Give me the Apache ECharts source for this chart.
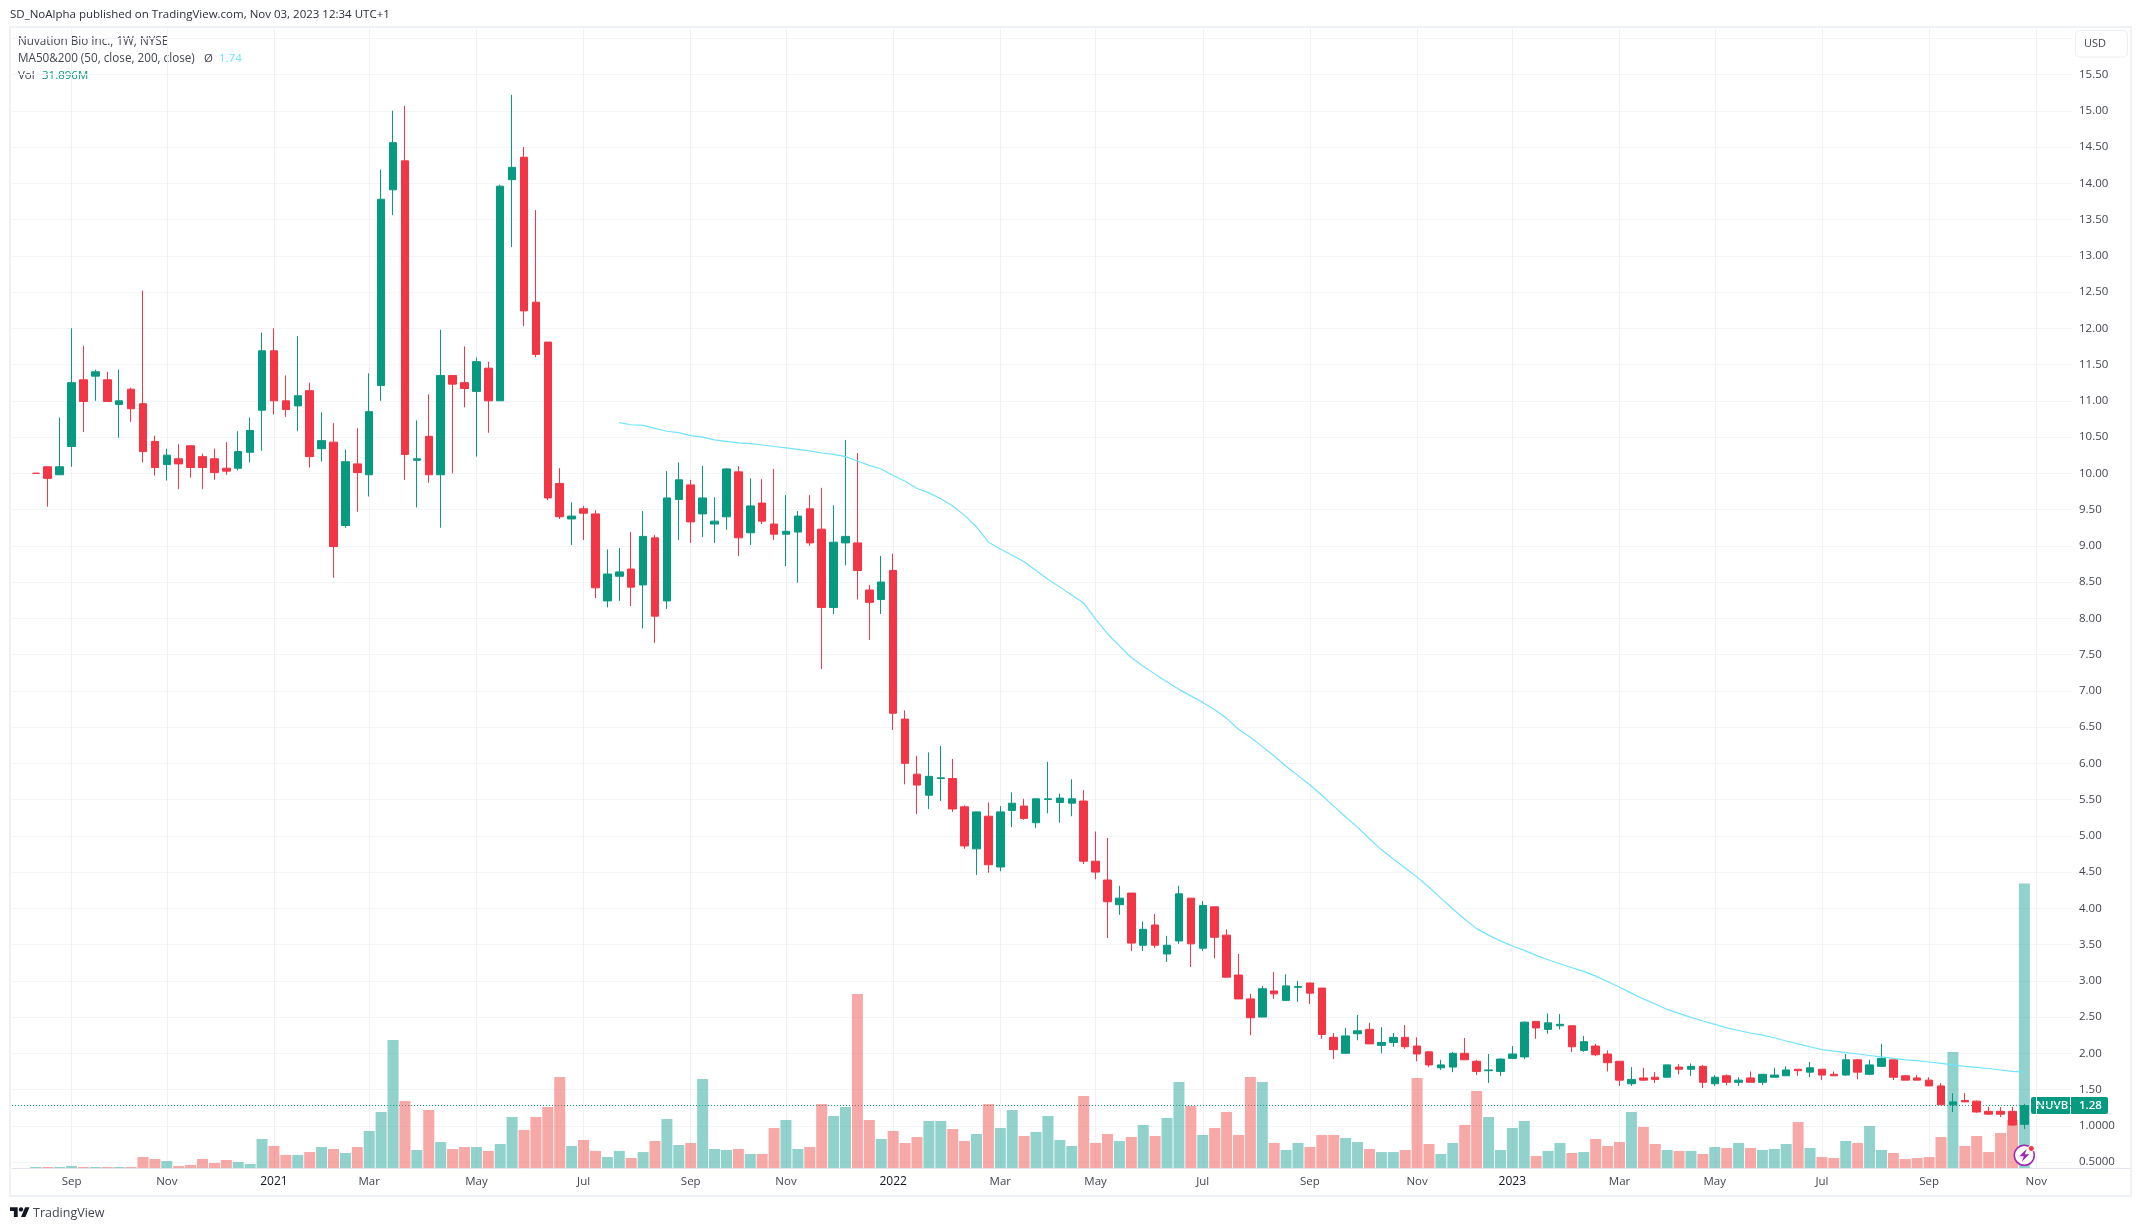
<!DOCTYPE html>
<html>
<head>
<meta charset="utf-8">
<title>Nuvation Bio Inc., 1W, NYSE</title>
<style>html,body{margin:0;padding:0;background:#fff}#c{width:2141px;height:1231px}</style>
<script src="https://cdn.jsdelivr.net/npm/echarts@6/dist/echarts.min.js"></script>
</head>
<body>
<div id="c"></div>
<script>
const opens = [
10.00,10.09,9.98,10.37,11.29,11.34,11.29,10.95,11.16,10.96,
10.44,10.12,10.20,10.38,10.23,10.20,10.07,10.07,10.29,10.87,
11.69,11.00,10.93,11.14,10.34,10.43,9.28,10.13,9.98,11.21,
13.91,14.31,10.18,10.51,9.98,11.35,11.25,11.13,11.45,11.00,
14.05,14.36,12.36,11.81,9.86,9.37,9.51,9.44,8.24,8.58,
8.68,8.46,9.11,8.24,9.64,9.84,9.44,9.30,9.40,10.02,
9.18,9.59,9.30,9.16,9.19,9.51,9.23,8.15,9.04,9.04,
8.39,8.26,8.66,6.61,5.85,5.56,5.79,5.79,5.40,4.82,
5.27,4.57,5.35,5.41,5.18,5.50,5.46,5.45,5.48,4.65,
4.39,4.05,4.21,3.49,3.77,3.37,3.55,4.14,3.45,4.02,
3.63,3.08,2.75,2.50,2.86,2.73,2.91,2.97,2.90,2.22,
2.00,2.27,2.33,2.11,2.15,2.22,2.10,2.02,1.80,1.81,
2.00,1.89,1.76,1.75,1.93,1.95,2.44,2.33,2.38,2.38,
2.04,2.10,1.99,1.89,1.58,1.66,1.67,1.67,1.81,1.78,
1.82,1.58,1.69,1.60,1.66,1.60,1.67,1.69,1.78,1.74,
1.78,1.71,1.70,1.91,1.71,1.82,1.91,1.69,1.66,1.63,
1.55,1.29,1.35,1.34,1.20,1.20,1.20,1.02];
const closes = [
10.00,9.93,10.09,11.25,10.99,11.40,10.99,11.00,10.89,10.30,
10.08,10.25,10.13,10.08,10.08,10.01,10.03,10.30,10.59,11.69,
11.00,10.88,11.07,10.23,10.45,8.99,10.16,10.01,10.85,13.78,
14.56,10.26,10.20,9.98,11.35,11.23,11.17,11.54,11.00,13.96,
14.22,12.24,11.64,9.66,9.40,9.41,9.45,8.42,8.61,8.64,
8.43,9.13,8.03,9.66,9.91,9.33,9.66,9.34,10.06,9.11,
9.55,9.34,9.16,9.20,9.41,9.04,8.15,9.05,9.13,8.66,
8.22,8.50,6.69,6.00,5.70,5.82,5.80,5.37,4.86,5.33,
4.60,5.33,5.45,5.24,5.51,5.51,5.52,5.51,4.65,4.50,
4.09,4.14,3.52,3.71,3.49,3.49,4.20,3.51,4.04,3.60,
3.05,2.75,2.49,2.89,2.82,2.93,2.92,2.83,2.26,2.05,
2.24,2.31,2.13,2.15,2.22,2.09,1.99,1.84,1.84,2.00,
1.91,1.75,1.77,1.92,1.99,2.43,2.35,2.42,2.40,2.09,
2.16,1.98,1.87,1.63,1.64,1.63,1.64,1.84,1.78,1.82,
1.60,1.67,1.60,1.63,1.60,1.71,1.70,1.77,1.76,1.80,
1.70,1.69,1.91,1.74,1.84,1.93,1.67,1.63,1.63,1.55,
1.29,1.33,1.33,1.19,1.16,1.16,1.01,1.28];
const highs = [
10.00,10.09,10.77,12.00,11.76,11.43,11.40,11.43,11.18,12.52,
10.52,10.34,10.40,10.38,10.27,10.34,10.43,10.58,10.77,11.94,
12.00,11.35,11.89,11.25,10.84,10.69,10.33,10.62,11.38,14.19,
15.00,15.07,10.73,11.09,11.98,11.35,11.75,11.60,11.54,13.98,
15.22,14.50,13.63,11.81,10.07,9.60,9.55,9.49,8.95,8.97,
9.19,9.48,9.15,10.03,10.15,9.91,10.10,9.67,10.07,10.10,
9.93,9.92,10.06,9.70,9.48,9.70,9.80,9.56,10.46,10.28,
8.46,8.86,8.89,6.73,6.10,6.15,6.24,6.06,5.42,5.33,
5.46,5.41,5.60,5.51,5.51,6.02,5.58,5.78,5.63,5.06,
4.97,4.31,4.21,3.82,3.92,3.62,4.31,4.14,4.10,4.02,
3.71,3.37,2.82,2.93,3.12,3.09,3.00,2.97,2.90,2.28,
2.35,2.53,2.42,2.36,2.28,2.39,2.22,2.03,1.91,2.02,
2.21,1.91,1.99,1.93,2.10,2.44,2.44,2.55,2.54,2.38,
2.24,2.13,2.04,1.89,1.81,1.80,1.74,1.84,1.85,1.86,
1.84,1.70,1.71,1.67,1.75,1.71,1.80,1.82,1.78,1.88,
1.78,1.75,1.99,1.92,1.91,2.13,1.91,1.70,1.70,1.67,
1.59,1.45,1.45,1.35,1.26,1.26,1.26,1.30];
const lows = [
10.00,9.54,9.98,10.09,10.57,11.00,10.99,10.49,10.71,10.15,
9.97,9.90,9.78,9.94,9.78,9.91,9.98,10.04,10.15,10.31,
10.81,10.78,10.58,10.08,10.16,8.56,9.25,9.47,9.68,11.00,
13.56,9.91,9.53,9.87,9.25,10.00,10.91,10.23,10.56,11.00,
13.12,12.03,11.60,9.63,9.37,9.01,9.08,8.28,8.15,8.24,
8.17,7.86,7.66,8.13,9.08,9.04,9.12,9.04,9.22,8.86,
9.01,9.30,9.08,8.72,8.49,9.00,7.30,8.06,8.73,8.26,
7.70,8.06,6.46,5.71,5.30,5.37,5.48,5.33,4.82,4.46,
4.49,4.51,5.12,5.22,5.11,5.31,5.18,5.27,4.61,4.40,
3.59,3.91,3.41,3.41,3.45,3.26,3.51,3.19,3.41,3.31,
3.05,2.75,2.25,2.50,2.75,2.73,2.71,2.68,2.20,1.92,
2.00,2.18,2.13,2.00,2.09,2.06,1.89,1.81,1.77,1.74,
1.91,1.70,1.59,1.69,1.92,1.92,2.20,2.27,2.33,2.02,
2.02,1.96,1.75,1.55,1.55,1.62,1.59,1.67,1.71,1.69,
1.52,1.55,1.56,1.55,1.60,1.56,1.66,1.69,1.69,1.67,
1.63,1.69,1.69,1.64,1.70,1.81,1.63,1.63,1.63,1.55,
1.29,1.19,1.33,1.18,1.15,1.12,1.00,0.955];
// Volume, in millions of shares
const volumes = [
0.11,0.11,0.11,0.22,0.11,0.11,0.11,0.11,0.11,1.23,
1.01,0.78,0.22,0.34,1.01,0.56,0.90,0.67,0.45,3.25,
2.47,1.46,1.46,1.79,2.35,2.13,1.68,2.35,4.15,6.28,
14.35,7.51,2.02,6.50,2.91,2.13,2.35,2.35,1.91,2.69,
5.72,4.26,5.72,6.84,10.20,2.47,3.14,1.91,1.23,1.91,
1.12,1.79,3.03,5.49,2.58,2.80,9.98,2.13,2.02,2.13,
1.57,1.57,4.48,5.38,2.13,2.35,7.17,5.83,6.84,19.51,
5.38,3.25,4.15,2.80,3.48,5.27,5.27,4.37,3.03,3.81,
7.17,4.48,6.50,3.59,4.04,5.83,3.14,2.47,8.07,2.80,
3.81,3.03,3.48,4.82,3.59,5.61,9.64,6.95,3.70,4.48,
6.28,3.70,10.20,9.64,2.80,2.02,2.80,2.35,3.70,3.70,
3.36,2.91,2.13,1.79,1.79,2.02,10.09,2.69,1.57,2.80,
4.82,8.63,5.72,2.02,4.48,5.27,1.35,1.91,2.80,1.68,
1.79,3.25,2.47,2.91,6.28,4.60,2.69,2.02,1.91,1.91,
1.57,2.35,2.24,2.80,2.24,2.02,2.13,2.69,5.16,2.24,
1.23,1.12,3.03,2.80,4.71,2.02,1.68,1.01,1.12,1.23,
3.48,13.00,2.47,3.59,1.79,3.92,5.38,31.896];
// 50-week moving average: the study starts at week index maStart
const maStart = 49;
const maValues = [
10.70,10.67,10.66,10.62,10.58,10.56,10.52,10.50,10.46,10.44,10.42,
10.41,10.39,10.37,10.35,10.33,10.31,10.28,10.26,10.23,10.17,
10.11,10.06,9.97,9.89,9.79,9.73,9.65,9.55,9.42,9.26,
9.05,8.955,8.87,8.78,8.66,8.54,8.43,8.32,8.21,7.99,
7.79,7.62,7.46,7.34,7.23,7.12,7.02,6.93,6.84,6.74,
6.62,6.47,6.36,6.23,6.10,5.96,5.83,5.70,5.56,5.41,
5.26,5.12,4.96,4.81,4.68,4.555,4.43,4.29,4.14,3.99,
3.85,3.72,3.63,3.55,3.48,3.42,3.35,3.29,3.235,3.18,
3.13,3.065,2.99,2.91,2.83,2.75,2.68,2.605,2.55,2.495,
2.445,2.40,2.35,2.315,2.28,2.25,2.215,2.17,2.13,2.09,
2.05,2.03,2.01,1.99,1.97,1.95,1.93,1.91,1.90,1.88,
1.86,1.84,1.82,1.805,1.79,1.77,1.75,1.74];
const lastPrice = 1.28;
const tickDates = ['2020-09-07','2020-11-02','2021-01-04','2021-03-01','2021-05-03','2021-07-05','2021-09-06','2021-11-01','2022-01-03','2022-03-07','2022-05-02','2022-07-04','2022-09-05','2022-11-07','2023-01-02','2023-03-06','2023-05-01','2023-07-03','2023-09-04','2023-11-06'];
const tickLabels = ['Sep','Nov','2021','Mar','May','Jul','Sep','Nov','2022','Mar','May','Jul','Sep','Nov','2023','Mar','May','Jul','Sep','Nov'];

const UP = '#089981', DOWN = '#f23645', FONT = '"Open Sans","Noto Sans",sans-serif';
const padLeft = 2, padRight = 4;
const categories = [];
for (let i = -padLeft; i < opens.length + padRight; i++) {
  const d = new Date(Date.UTC(2020, 7, 17 + i * 7));
  categories.push(d.toISOString().slice(0, 10));
}
const pad = (arr) => [...Array(padLeft).fill(null), ...arr, ...Array(categories.length - padLeft - arr.length).fill(null)];
const candleData = opens.map((o, i) => [o, closes[i], lows[i], highs[i]]);
const emptyCandle = ['-', '-', '-', '-'];
const candles = [...Array(padLeft).fill(emptyCandle), ...candleData, ...Array(padRight).fill(emptyCandle)];
const maSeries = pad([...Array(maStart).fill(null), ...maValues]);
const isTick = (i, v) => tickDates.includes(categories[i]);
const volColor = (p) => {
  const i = p.dataIndex - padLeft;
  return closes[i] >= opens[i] ? 'rgba(38,166,154,0.5)' : 'rgba(239,83,80,0.5)';
};
const gridX = {left: 12, width: 2060};

const txt = (x, y, text, fill, size, extra) => ({type: 'text', x, y, silent: true, style: Object.assign({text, fill, font: (size || 11.5) + 'px ' + FONT, textVerticalAlign: 'middle'}, extra || {})});

const chart = echarts.init(document.getElementById('c'), null, {renderer: 'canvas'});
chart.setOption({
  animation: false,
  backgroundColor: '#ffffff',
  grid: [
    Object.assign({top: 38.3, height: 1123.75}, gridX),
    Object.assign({top: 28, height: 1140}, gridX)
  ],
  xAxis: [
    {type: 'category', gridIndex: 0, data: categories, boundaryGap: false, show: false},
    {type: 'category', gridIndex: 1, data: categories, boundaryGap: false,
      axisLine: {show: true, lineStyle: {color: '#e0e3eb', width: 1}},
      axisTick: {show: false},
      axisLabel: {interval: isTick, margin: 8, color: '#434651', fontFamily: FONT, fontSize: 11.5, hideOverlap: false,
        formatter: (v) => {
          const t = tickLabels[tickDates.indexOf(v)] || '';
          return /^\d{4}$/.test(t) ? '{y|' + t + '}' : t;
        },
        rich: {y: {color: '#131722', fontFamily: FONT, fontSize: 12, fontWeight: 'normal'}}},
      splitLine: {show: true, interval: isTick, lineStyle: {color: '#f0f1f5', width: 1}}}
  ],
  yAxis: [
    {type: 'value', gridIndex: 0, position: 'right', min: 0.5, max: 16, interval: 0.5, scale: false,
      axisLine: {show: false}, axisTick: {show: false},
      axisLabel: {margin: 7, color: '#434651', fontFamily: FONT, fontSize: 11.5,
        formatter: (v) => v >= 16 ? '' : (v <= 1 ? v.toFixed(4) : v.toFixed(2))},
      splitLine: {show: true, lineStyle: {color: '#f3f4f7', width: 1}}},
    {type: 'value', gridIndex: 1, min: 0, max: 127.8, show: false, splitLine: {show: false}}
  ],
  series: [
    {name: 'Last price', type: 'line', xAxisIndex: 0, yAxisIndex: 0, z: 0, data: [], silent: true,
      markLine: {silent: true, symbol: 'none', animation: false, label: {show: false}, z: 0,
        lineStyle: {color: UP, width: 1, type: [1, 2]}, data: [{yAxis: lastPrice}]}},
    {name: 'Vol', type: 'bar', xAxisIndex: 1, yAxisIndex: 1, z: 1, barWidth: 11, data: pad(volumes), silent: true,
      itemStyle: {color: volColor}},
    {name: 'NUVB', type: 'candlestick', xAxisIndex: 0, yAxisIndex: 0, z: 3, barWidth: 8, data: candles, silent: true, clip: false,
      itemStyle: {color: UP, color0: DOWN, borderColor: UP, borderColor0: DOWN, borderWidth: 1}},
    {name: 'MA50&200', type: 'line', xAxisIndex: 0, yAxisIndex: 0, z: 4, data: maSeries, showSymbol: false, silent: true, connectNulls: false,
      lineStyle: {color: '#6fe3ff', width: 1.2}}
  ],
  graphic: {elements: [
    {type: 'rect', silent: true, shape: {x: 10, y: 27, width: 2121, height: 1169}, style: {fill: 'none', stroke: '#eef1f5', lineWidth: 2}},
    {type: 'line', silent: true, shape: {x1: 2072, y1: 1168.5, x2: 2130, y2: 1168.5}, style: {stroke: '#e0e3eb', lineWidth: 1}},
    txt(10, 15, 'SD_NoAlpha published on TradingView.com, Nov 03, 2023 12:34 UTC+1', '#2a2e39'),
    txt(18, 42, 'Nuvation Bio Inc., 1W, NYSE', '#434651', 11.7),
    txt(18, 59, 'MA50&200 (50, close, 200, close)', '#434651', 11.7),
    txt(204, 59, 'Ø', '#434651'),
    txt(219, 59, '1.74', '#6fe3ff'),
    txt(18, 76, 'Vol', '#434651'),
    txt(42, 76, '31.896M', '#089981'),
    {type: 'rect', silent: true, shape: {x: 2075.5, y: 30.5, width: 52, height: 26.5, r: 4}, style: {fill: '#fff', stroke: '#eceef2', lineWidth: 1}},
    txt(2084, 44, 'USD', '#434651', 11),
    {type: 'rect', silent: true, shape: {x: 2031, y: 1097, width: 39, height: 17, r: [2, 0, 0, 2]}, style: {fill: UP}},
    {type: 'rect', silent: true, shape: {x: 2071, y: 1097, width: 37, height: 17, r: [0, 2, 2, 0]}, style: {fill: UP}},
    txt(2036, 1105.5, 'NUVB', '#ffffff', 11.5, {font: '600 11.5px ' + FONT}),
    txt(2079, 1105.5, '1.28', '#ffffff', 11.5, {font: '600 11.5px ' + FONT}),
    {type: 'circle', silent: true, z: 130, x: 2024.3, y: 1155.3, shape: {r: 10}, style: {fill: '#ffffff', stroke: '#9c27b0', lineWidth: 1.5}},
    {type: 'polygon', silent: true, z: 131, x: 2024.3, y: 1155.3, shape: {points: [[2.5, -6.5], [-5, 1], [-0.5, 1], [-2.5, 6.5], [5, -1], [0.5, -1]]}, style: {fill: '#9c27b0'}},
    {type: 'circle', silent: true, z: 132, x: 2031.3, y: 1148.5, shape: {r: 3}, style: {fill: '#f23645', stroke: '#ffffff', lineWidth: 1}},
    {type: 'group', x: 10, y: 1205, scaleX: 0.55, scaleY: 0.55, silent: true, children: [
      {type: 'polygon', shape: {points: [[0, 4], [14, 4], [14, 22], [7, 22], [7, 11], [0, 11]]}, style: {fill: '#131722'}},
      {type: 'polygon', shape: {points: [[20, 22], [27.5, 4], [35.5, 4], [28, 22]]}, style: {fill: '#131722'}},
      {type: 'circle', shape: {cx: 20, cy: 8, r: 4}, style: {fill: '#131722'}}
    ]},
    txt(33, 1213.5, 'TradingView', '#434651', 12.5)
  ]}
});
</script>
</body>
</html>
